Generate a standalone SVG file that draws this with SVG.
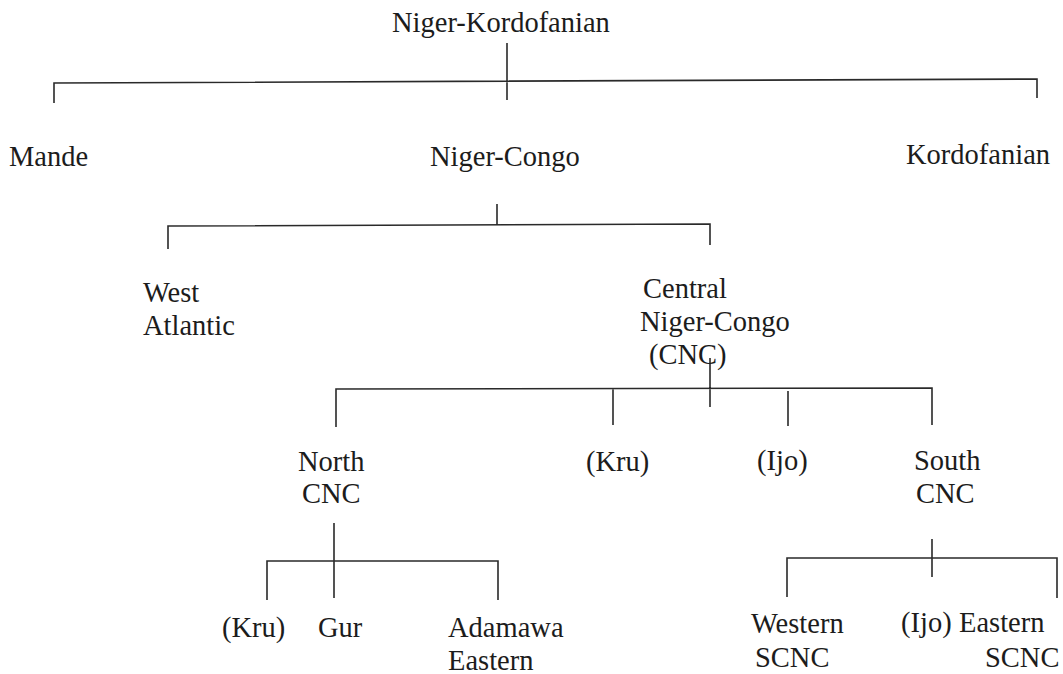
<svg xmlns="http://www.w3.org/2000/svg" width="1063" height="674" viewBox="0 0 1063 674">
<style>
text { font-family: "Liberation Serif", "Times New Roman", serif; font-size: 28.5px; fill: #1c1c1c; }
.ln { stroke: #2a2a2a; stroke-width: 1.6; fill: none; }
</style>
<rect width="1063" height="674" fill="#ffffff"/>
<g id="connectors">
  <path class="ln" d="M507,43 V100 M54,103 V83 L1037,79 V98"/>
  <path class="ln" d="M497,204 V225 M168,249 V226 L710,224 V245"/>
  <path class="ln" d="M710,358 V407 M336,427 V389 L932,388 V425 M613,389 V425 M788,391 V426"/>
  <path class="ln" d="M334,523 V598 M267,600 V561 H498 V600"/>
  <path class="ln" d="M932,539 V577 M787,597 V558 L1057,558 V598"/>
</g>
<g id="n-niger-kordofanian"><text x="392" y="32">Niger-Kordofanian</text></g>
<g id="n-mande"><text x="9" y="166">Mande</text></g>
<g id="n-niger-congo"><text x="430" y="166">Niger-Congo</text></g>
<g id="n-kordofanian"><text x="906" y="164">Kordofanian</text></g>
<g id="n-west-atlantic"><text x="143" y="302">West</text><text x="143" y="335">Atlantic</text></g>
<g id="n-cnc"><text x="643" y="298">Central</text><text x="640" y="331">Niger-Congo</text><text x="649" y="364">(CNC)</text></g>
<g id="n-north-cnc"><text x="298" y="471">North</text><text x="302" y="503">CNC</text></g>
<g id="n-kru1"><text x="586" y="471">(Kru)</text></g>
<g id="n-ijo1"><text x="757" y="470">(Ijo)</text></g>
<g id="n-south-cnc"><text x="914" y="470">South</text><text x="916" y="503">CNC</text></g>
<g id="n-kru2"><text x="222" y="637">(Kru)</text></g>
<g id="n-gur"><text x="318" y="637">Gur</text></g>
<g id="n-adamawa"><text x="448" y="637">Adamawa</text><text x="448" y="670">Eastern</text></g>
<g id="n-western-scnc"><text x="751" y="633">Western</text><text x="755" y="667">SCNC</text></g>
<g id="n-ijo2"><text x="901" y="632">(Ijo)</text></g>
<g id="n-eastern-scnc"><text x="959" y="632">Eastern</text><text x="985" y="667">SCNC</text></g>
</svg>
